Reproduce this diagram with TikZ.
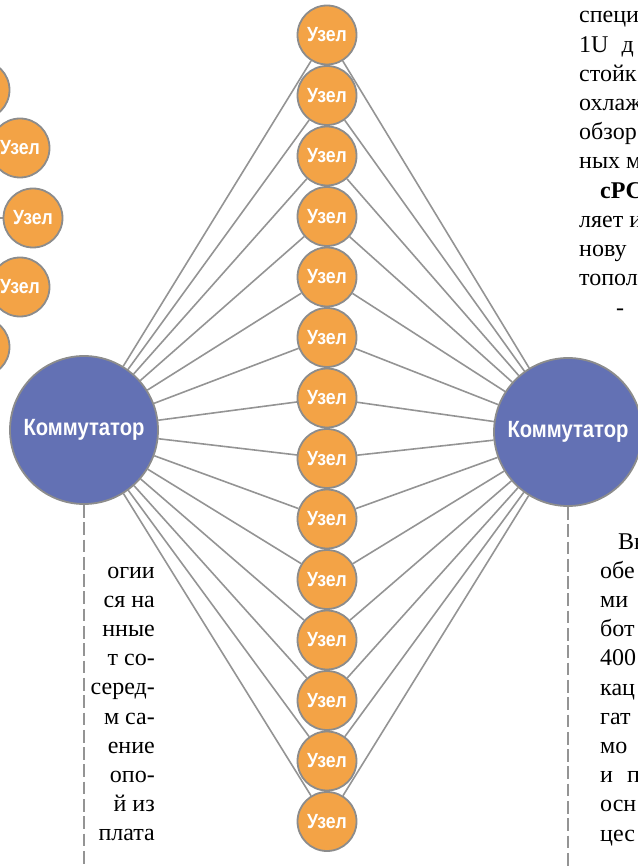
\documentclass[tikz,border=0pt]{standalone}
\usepackage{fontspec}
\setmainfont{Liberation Serif}
\newfontfamily\condbold[FakeStretch=0.86]{Liberation Sans Bold}
\usetikzlibrary{backgrounds}
\definecolor{nodeorange}{RGB}{243,163,70}
\definecolor{switchblue}{RGB}{99,113,180}
\definecolor{edgegray}{RGB}{148,148,148}
\definecolor{bordergray}{RGB}{140,140,140}
\tikzset{
  uzel/.style={circle, fill=nodeorange, draw=bordergray, line width=1.8pt,
    minimum size=59pt, inner sep=0pt, text=white,
    font=\condbold\fontsize{20.5}{20.5}\selectfont},
  switchnode/.style={circle, fill=switchblue, draw=bordergray, line width=1.8pt,
    minimum size=148pt, inner sep=0pt, text=white,
    font=\condbold\fontsize{23.5}{23.5}\selectfont},
  link/.style={draw=edgegray, line width=1.6pt},
  dashline/.style={draw=edgegray, line width=1.6pt, dash pattern=on 12.7pt off 4.6pt},
  bodytext/.style={inner sep=0pt, font=\fontsize{24}{29}\selectfont},
}
\begin{document}
\begin{tikzpicture}[x=1pt,y=-1pt]
\useasboundingbox (0,0) rectangle (637,866);
% switches
\node[switchnode] (L) at (84,430) {Коммутатор};
\node[switchnode] (R) at (568,432) {Коммутатор};
% central column of nodes
\foreach \i in {0,...,13}{
  \node[uzel] (c\i) at (327,{35+60.5*\i}) {Узел};
}
\begin{scope}[on background layer]
\foreach \i in {0,...,13}{
  \draw[link] (L) -- (c\i);
  \draw[link] (R) -- (c\i);
}
\end{scope}
% partial nodes on the left edge
\node[uzel] (p1) at (-20,90) {Узел};
\node[uzel] (p2) at (20,148) {Узел};
\node[uzel] (p3) at (33,218) {Узел};
\node[uzel] (p4) at (20,287) {Узел};
\node[uzel] (p5) at (-20,347) {Узел};
\coordinate (p3w) at (-40,218);
\begin{scope}[on background layer]
\draw[link] (p3w) -- (p3);
\end{scope}
% dashed drop lines
\coordinate (Lend) at (84,866);
\coordinate (Rend) at (568,866);
\draw[dashline] (L.south) -- (Lend);
\draw[dashline] (R.south) -- (Rend);
% left text column
\foreach \t [count=\k from 0] in {огии,ся на,нные,т со-,серед-,м са-,ение,опо-,й из,плата}{
  \node[bodytext, anchor=base east] (lt\k) at (155,{578+29.2*\k}) {\t};
}
% right top text column
\foreach \t [count=\k from 0] in {специ,1U\hspace{7pt} д,стойк,охлаж,обзор,ных м}{
  \node[bodytext, anchor=base west] (rt\k) at (579,{23+29.2*\k}) {\t};
}
\node[bodytext, anchor=base west, font=\bfseries\fontsize{24}{29}\selectfont] (rtb) at (600,{23+29.2*6}) {cPC};
\foreach \t [count=\k from 7] in {ляет и,нову,топол}{
  \node[bodytext, anchor=base west] (rt\k) at (579,{23+29.2*\k}) {\t};
}
\node[bodytext, anchor=base west] (rtx) at (616,{23+29.2*10}) {-};
% right bottom text column
\node[bodytext, anchor=base west] (rb0) at (618,549) {Вн};
\foreach \t [count=\k from 1] in {обе,ми,бот,400,кац,гат,мо,и\hspace{8pt} п,осн,цес}{
  \node[bodytext, anchor=base west] (rb\k) at (600,{549+29.2*\k}) {\t};
}
\end{tikzpicture}
\end{document}
